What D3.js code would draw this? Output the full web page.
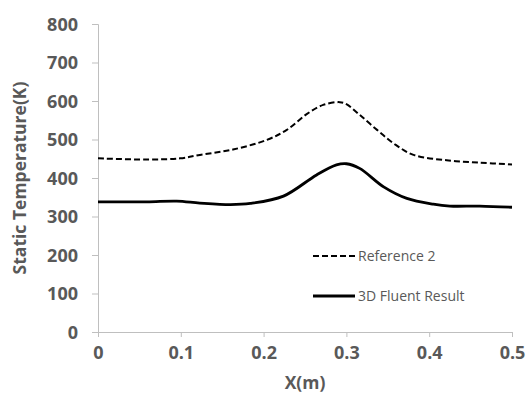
<!DOCTYPE html>
<html>
<head>
<meta charset="utf-8">
<script src="https://cdn.jsdelivr.net/npm/d3@7"></script>
<style>
  body { margin: 0; background: #fff; }
  svg { display: block; }
</style>
</head>
<body>
<div id="chart"></div>
<script>
// Values
const refX = [0, 0.059, 0.099, 0.123, 0.163, 0.204, 0.228, 0.252, 0.272, 0.292, 0.3, 0.316, 0.337, 0.357, 0.381, 0.421, 0.461, 0.5];
const refT = [451, 448, 451, 460, 474, 499, 525, 566, 590, 597, 592, 564, 525, 490, 460, 446, 440, 435];

const fluentX = [0, 0.059, 0.095, 0.123, 0.16, 0.184, 0.224, 0.264, 0.288, 0.3, 0.316, 0.345, 0.373, 0.405, 0.425, 0.461, 0.5];
const fluentT = [338, 338, 340, 335, 331, 334, 353, 408, 434, 437, 425, 377, 347, 332, 327, 327, 324];

const xTicks = [0, 0.1, 0.2, 0.3, 0.4, 0.5];
const yTicks = [0, 100, 200, 300, 400, 500, 600, 700, 800];

const legendNames = ["Reference 2", "3D Fluent Result"];

// Layout
const W = 528, H = 402;
const margin = { top: 24, right: 16, bottom: 70, left: 98 };
const width = 512 - margin.left;
const height = 332 - margin.top;

const svg = d3.select("#chart")
  .append("svg")
  .attr("width", W)
  .attr("height", H);

const g = svg.append("g")
  .attr("transform", `translate(${margin.left},${margin.top})`);

const x = d3.scaleLinear().domain([0, 0.5]).range([0, width]);
const y = d3.scaleLinear().domain([0, 800]).range([height, 0]);

const axisColor = "#bfbfbf";
const textColor = "#595959";
const fontFam = "'Open Sans', 'DejaVu Sans', sans-serif";

// Axes
const xAxis = g.append("g")
  .attr("transform", `translate(0,${height})`)
  .call(d3.axisBottom(x).tickValues(xTicks).tickSize(5).tickFormat(d => d === 0 ? "0" : d3.format(".1f")(d)));

const yAxis = g.append("g")
  .call(d3.axisLeft(y).tickValues(yTicks).tickSize(6).tickFormat(d3.format("d")));

[xAxis, yAxis].forEach(a => {
  a.select(".domain").attr("stroke", axisColor).attr("stroke-width", 1);
  a.selectAll(".tick line").attr("stroke", axisColor);
  a.selectAll(".tick text")
    .attr("fill", textColor)
    .style("font-family", fontFam)
    .style("font-weight", "bold")
    .style("font-size", "18px");
});
xAxis.selectAll(".tick text").attr("dy", "0").attr("y", 27);
yAxis.selectAll(".tick text").attr("x", -20).attr("dy", "0.36em");

// Axis titles
svg.append("text")
  .attr("x", margin.left + width / 2)
  .attr("y", 389)
  .attr("text-anchor", "middle")
  .attr("fill", textColor)
  .style("font-family", fontFam)
  .style("font-weight", "bold")
  .style("font-size", "17.5px")
  .text("X(m)");

svg.append("text")
  .attr("transform", `translate(26,${margin.top + height / 2}) rotate(-90)`)
  .attr("text-anchor", "middle")
  .attr("fill", textColor)
  .style("font-family", fontFam)
  .style("font-weight", "bold")
  .style("font-size", "17.5px")
  .text("Static Temperature(K)");

// Lines
const line = d3.line()
  .x(d => x(d[0]))
  .y(d => y(d[1]))
  .curve(d3.curveCatmullRom.alpha(0.5));

g.append("path")
  .datum(d3.zip(refX, refT))
  .attr("fill", "none")
  .attr("stroke", "#000")
  .attr("stroke-width", 2)
  .attr("stroke-dasharray", "6,3")
  .attr("d", line);

g.append("path")
  .datum(d3.zip(fluentX, fluentT))
  .attr("fill", "none")
  .attr("stroke", "#000")
  .attr("stroke-width", 2.8)
  .attr("d", line);

// Legend
const legend = svg.append("g").attr("transform", "translate(313,256)");
const styles = [{ dash: "6,3", w: 2 }, { dash: null, w: 2.8 }];
legendNames.forEach((name, i) => {
  const row = legend.append("g").attr("transform", `translate(0,${i * 40})`);
  row.append("line")
    .attr("x1", 0).attr("x2", 42)
    .attr("stroke", "#000")
    .attr("stroke-width", styles[i].w)
    .attr("stroke-dasharray", styles[i].dash);
  row.append("text")
    .attr("x", 45)
    .attr("dy", "0.35em")
    .attr("fill", textColor)
    .style("font-family", fontFam)
    .style("font-size", "14px")
    .text(name);
});
</script>
</body>
</html>
